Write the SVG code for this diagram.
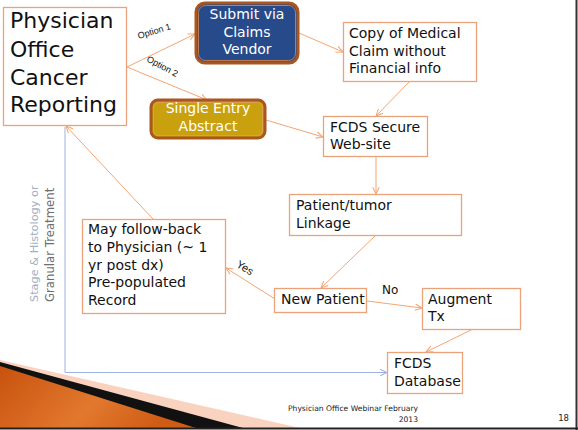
<svg xmlns="http://www.w3.org/2000/svg" width="578" height="430" viewBox="0 0 578 430">
<defs>
<style>
.box{fill:#fff;stroke:#E9A27A;stroke-width:1.3}
.t{font-family:"DejaVu Sans",Verdana,sans-serif;font-size:14px;fill:#111}
.w{font-family:"DejaVu Sans",Verdana,sans-serif;font-size:14px;fill:#fff;text-anchor:middle}
.c{fill:none;stroke:#F5A572;stroke-width:1;marker-end:url(#ah)}
.lbl{font-family:"Liberation Sans",Arial,sans-serif;font-size:9px;fill:#111}
</style>
<marker id="ah" viewBox="0 0 10 10" refX="9.5" refY="5" markerWidth="8" markerHeight="8" markerUnits="userSpaceOnUse" orient="auto">
<path d="M1,1 L9.5,5 L1,9" fill="none" stroke="#F5A572" stroke-width="1.3"/>
</marker>
<marker id="ahb" viewBox="0 0 10 10" refX="9.5" refY="5" markerWidth="8" markerHeight="8" markerUnits="userSpaceOnUse" orient="auto">
<path d="M1,1 L9.5,5 L1,9" fill="none" stroke="#9DB3E2" stroke-width="1.3"/>
</marker>
<linearGradient id="og" x1="0" y1="0" x2="1" y2="0.3">
<stop offset="0" stop-color="#C8520E"/>
<stop offset="0.6" stop-color="#E2782E"/>
<stop offset="1" stop-color="#CF5C14"/>
</linearGradient>
</defs>
<rect width="578" height="430" fill="#fff"/>
<g id="decoration">
<polygon points="0,360 300,428 0,428" fill="#F9D3C0"/>
<polygon points="0,362 243,428 0,428" fill="#111"/>
<polygon points="0,366 196,428 0,428" fill="url(#og)"/>
<line x1="576.5" y1="0" x2="576.5" y2="430" stroke="#333" stroke-width="2"/>
<line x1="0" y1="428.5" x2="578" y2="428.5" stroke="#222" stroke-width="2"/>
</g>
<g id="connectors">
<path class="c" d="M127,67 L195,34"/>
<path class="c" d="M127,67 L207,100"/>
<path class="c" d="M299,33 L343,52"/>
<path class="c" d="M266,120 L323,137"/>
<path class="c" d="M409,82 L376,116"/>
<path class="c" d="M376,157 L376,194"/>
<path class="c" d="M375,236 L321,288"/>
<path class="c" d="M275,299 L226,268"/>
<path class="c" d="M367,301 L422,308"/>
<path class="c" d="M471,330 L426,352"/>
<path class="c" d="M153,219 L66,126"/>
<path d="M65,127 L65,372.5 L387,372.5" fill="none" stroke="#9DB3E2" stroke-width="1" marker-end="url(#ahb)"/>
<text class="lbl" transform="translate(155,34) rotate(-17)" text-anchor="middle">Option 1</text>
<text class="lbl" transform="translate(161,69) rotate(28)" text-anchor="middle">Option 2</text>
<text class="lbl" transform="translate(243,271) rotate(32)" text-anchor="middle" style="font-size:11px">Yes</text>
<text class="t" x="382" y="294" style="font-size:12px">No</text>
</g>
<g id="physician">
<rect class="box" x="3.5" y="7.5" width="123" height="118"/>
<text class="t" style="font-size:22px"><tspan x="10" y="28">Physician</tspan><tspan x="10" y="57">Office</tspan><tspan x="10" y="85">Cancer</tspan><tspan x="10" y="112">Reporting</tspan></text>
</g>
<g id="submit">
<rect x="196" y="3" width="102" height="60" rx="9" fill="#274A8A" stroke="#A9561F" stroke-width="3"/>
<rect x="198.5" y="5.5" width="97" height="55" rx="7" fill="none" stroke="#D98A50" stroke-width="0.8"/>
<text class="w"><tspan x="247" y="19">Submit via</tspan><tspan x="247" y="37">Claims</tspan><tspan x="247" y="54">Vendor</tspan></text>
</g>
<g id="single">
<rect x="151" y="100" width="114" height="38" rx="7" fill="#C9A10E" stroke="#A9561F" stroke-width="3"/>
<rect x="153.5" y="102.5" width="109" height="33" rx="5" fill="none" stroke="#E0A060" stroke-width="0.8"/>
<text class="w"><tspan x="208" y="113">Single Entry</tspan><tspan x="208" y="131">Abstract</tspan></text>
</g>
<g id="copy">
<rect class="box" x="343.5" y="22.5" width="133" height="59"/>
<text class="t"><tspan x="349" y="38">Copy of Medical</tspan><tspan x="349" y="56">Claim without</tspan><tspan x="349" y="73">Financial info</tspan></text>
</g>
<g id="secure">
<rect class="box" x="323.5" y="116.5" width="104" height="40"/>
<text class="t"><tspan x="330" y="132">FCDS Secure</tspan><tspan x="330" y="149">Web-site</tspan></text>
</g>
<g id="linkage">
<rect class="box" x="289.5" y="194.5" width="172" height="41"/>
<text class="t"><tspan x="296" y="210">Patient/tumor</tspan><tspan x="296" y="228">Linkage</tspan></text>
</g>
<g id="newpatient">
<rect class="box" x="274.5" y="288.5" width="92" height="24"/>
<text class="t" x="281" y="304">New Patient</text>
</g>
<g id="augment">
<rect class="box" x="422.5" y="288.5" width="98" height="41"/>
<text class="t"><tspan x="428" y="304">Augment</tspan><tspan x="428" y="321">Tx</tspan></text>
</g>
<g id="database">
<rect class="box" x="387.5" y="352.5" width="75" height="41"/>
<text class="t"><tspan x="394" y="368">FCDS</tspan><tspan x="394" y="386">Database</tspan></text>
</g>
<g id="followback">
<rect class="box" x="82.5" y="219.5" width="143" height="94"/>
<text class="t"><tspan x="88" y="234">May follow-back</tspan><tspan x="88" y="252">to Physician (~ 1</tspan><tspan x="88" y="270">yr post dx)</tspan><tspan x="88" y="287">Pre-populated</tspan><tspan x="88" y="305">Record</tspan></text>
</g>
<g id="sidelabel">
<text transform="translate(38,302) rotate(-90)" style="font-family:'DejaVu Sans',Verdana,sans-serif;font-size:11.3px;fill:#A3AFC2">Stage  &amp; Histology or</text>
<text transform="translate(54,302) rotate(-90)" style="font-family:'DejaVu Sans',Verdana,sans-serif;font-size:11.7px;fill:#6E6E6E">Granular Treatment</text>
</g>
<g id="footer">
<text x="418" y="411" text-anchor="end" style="font-family:'DejaVu Sans',Verdana,sans-serif;font-size:7.6px;fill:#222">Physician Office Webinar February</text>
<text x="418" y="422" text-anchor="end" style="font-family:'DejaVu Sans',Verdana,sans-serif;font-size:7.6px;fill:#222">2013</text>
<text x="569" y="421" text-anchor="end" style="font-family:'DejaVu Sans',Verdana,sans-serif;font-size:8.5px;fill:#222">18</text>
</g>
</svg>
